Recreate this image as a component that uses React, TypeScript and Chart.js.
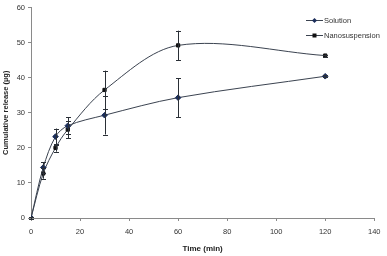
import React, { useEffect, useRef } from "react";
import { Chart, registerables } from "chart.js";

Chart.register(...registerables);

const times = [0, 5, 10, 15, 30, 60, 120];
const solution = [0, 14.4, 23.2, 26.3, 29.3, 34.3, 40.4];
const solutionErr = [0.4, 1.5, 2.3, 2.4, 5.5, 5.6, 0.3];
const nano = [0, 12.7, 20.0, 25.2, 36.5, 49.2, 46.3];
const nanoErr = [0.4, 1.5, 1.1, 2.4, 5.5, 4.2, 0.3];
const seriesNames = ["Solution", "Nanosuspension"];
const xTicks = [0, 20, 40, 60, 80, 100, 120, 140];
const yTicks = [0, 10, 20, 30, 40, 50, 60];

const FONT = "'Liberation Sans', Arial, sans-serif";
const LINE = "#3b4350";
const MARK = ["#1c2e5a", "#111111"];
const STYLE = ["rectRot", "rect"];
const ERRS = [solutionErr, nanoErr];

const errorBars = {
  id: "errorBars",
  afterDatasetsDraw(chart: any) {
    const { ctx, scales } = chart;
    const xs = scales.x;
    const ys = scales.y;
    ctx.save();
    ctx.strokeStyle = "#2a2f36";
    ctx.lineWidth = 1;
    chart.data.datasets.forEach((ds: any, i: number) => {
      const errs = ERRS[i];
      ds.data.forEach((p: any, j: number) => {
        const e = errs[j];
        if (!e) return;
        const x = Math.round(xs.getPixelForValue(p.x)) + 0.5;
        const y1 = ys.getPixelForValue(p.y + e);
        const y2 = ys.getPixelForValue(p.y - e);
        ctx.beginPath();
        ctx.moveTo(x, y1);
        ctx.lineTo(x, y2);
        ctx.moveTo(x - 2.5, Math.round(y1) + 0.5);
        ctx.lineTo(x + 2.5, Math.round(y1) + 0.5);
        ctx.moveTo(x - 2.5, Math.round(y2) + 0.5);
        ctx.lineTo(x + 2.5, Math.round(y2) + 0.5);
        ctx.stroke();
      });
    });
    ctx.restore();
  },
};

const customLegend = {
  id: "customLegend",
  afterDraw(chart: any) {
    const { ctx } = chart;
    ctx.save();
    const x0 = 306;
    const ys = [20, 35];
    seriesNames.forEach((name, i) => {
      const y = ys[i] + 0.5;
      ctx.strokeStyle = LINE;
      ctx.lineWidth = 1;
      ctx.beginPath();
      ctx.moveTo(x0, y);
      ctx.lineTo(x0 + 17, y);
      ctx.stroke();
      ctx.fillStyle = MARK[i];
      const cx = x0 + 8.5;
      if (i === 0) {
        ctx.beginPath();
        ctx.moveTo(cx, y - 2.5);
        ctx.lineTo(cx + 2.5, y);
        ctx.lineTo(cx, y + 2.5);
        ctx.lineTo(cx - 2.5, y);
        ctx.closePath();
        ctx.fill();
      } else {
        ctx.fillRect(cx - 2, y - 2, 4, 4);
      }
      ctx.fillStyle = "#333";
      ctx.font = `7.5px ${FONT}`;
      ctx.textBaseline = "middle";
      ctx.textAlign = "left";
      ctx.fillText(name, x0 + 18, y);
    });
    ctx.restore();
  },
};

export default function App() {
  const ref = useRef<HTMLCanvasElement>(null);
  useEffect(() => {
    document.body.style.margin = "0";
    const mk = (vals: number[]) => times.map((t, k) => ({ x: t, y: vals[k] }));
    const chart = new Chart(ref.current as HTMLCanvasElement, {
      type: "line",
      data: {
        datasets: [solution, nano].map((vals, i) => ({
          label: seriesNames[i],
          data: mk(vals),
          borderColor: LINE,
          borderWidth: 1,
          tension: 0.33,
          pointStyle: STYLE[i] as any,
          pointRadius: i === 0 ? 2.8 : 2.3,
          pointBackgroundColor: MARK[i],
          pointBorderColor: MARK[i],
          pointBorderWidth: 1,
          fill: false,
        })),
      },
      options: {
        responsive: false,
        animation: false,
        events: [],
        layout: { padding: { top: 4, right: 8, left: 0, bottom: 0 } },
        plugins: { legend: { display: false }, tooltip: { enabled: false } },
        scales: {
          x: {
            type: "linear",
            min: 0,
            max: 140,
            afterBuildTicks: (s: any) => {
              s.ticks = xTicks.map((v) => ({ value: v }));
            },
            afterFit: (s: any) => {
              s.height = 38;
            },
            border: { color: "#8a8a8a", width: 1 },
            grid: { drawOnChartArea: false, drawTicks: true, tickLength: 3, color: "#8a8a8a" },
            ticks: { font: { family: FONT, size: 7.5 }, color: "#333", padding: 6.5, maxRotation: 0 },
            title: {
              display: true,
              text: "Time (min)",
              font: { family: FONT, size: 8, weight: "bold" },
              color: "#222",
              padding: { top: 0, bottom: 2 },
            },
          },
          y: {
            type: "linear",
            min: 0,
            max: 60,
            afterBuildTicks: (s: any) => {
              s.ticks = yTicks.map((v) => ({ value: v }));
            },
            afterFit: (s: any) => {
              s.width = 31;
            },
            border: { color: "#8a8a8a", width: 1 },
            grid: { drawOnChartArea: false, drawTicks: true, tickLength: 3, color: "#8a8a8a" },
            ticks: { font: { family: FONT, size: 7.5 }, color: "#333", padding: 3 },
            title: {
              display: true,
              text: "Cumulative release (µg)",
              font: { family: FONT, size: 7.5, weight: "bold" },
              color: "#222",
              padding: { top: 1.5, bottom: 0 },
            },
          },
        },
      },
      plugins: [errorBars, customLegend],
    });
    return () => chart.destroy();
  }, []);
  return (
    <div style={{ width: 387, height: 256 }}>
      <canvas ref={ref} width={387} height={256} />
    </div>
  );
}
